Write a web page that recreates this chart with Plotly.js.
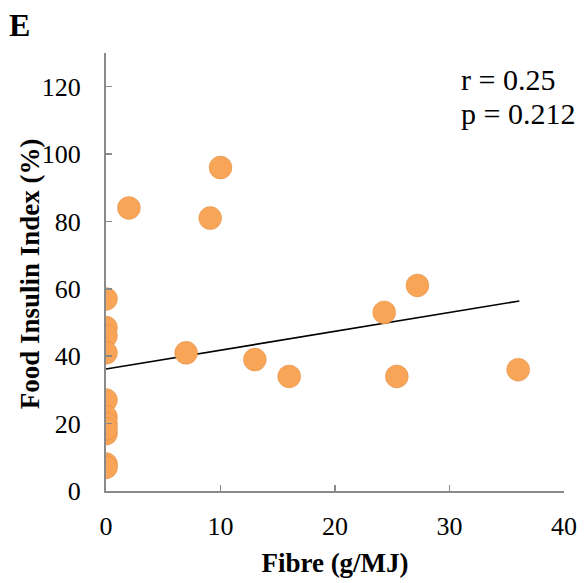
<!DOCTYPE html>
<html>
<head>
<meta charset="utf-8">
<script src="https://cdn.plot.ly/plotly-3.0.1.min.js"></script>
<style>html,body{margin:0;padding:0;background:#fff;}#chart{width:587px;height:583px;}</style>
</head>
<body>
<div id="chart"></div>
<script>
// Fibre (g/MJ) vs Food Insulin Index (%)
var fibre = [0, 0, 0, 0, 0, 0, 0, 0, 0, 0, 0, 2, 9.1, 10, 7, 13, 16, 24.3, 27.2, 25.4, 36];
var insulin = [57, 48.5, 46, 41, 27, 22, 20, 17, 8, 7, 18.5, 84, 81, 96, 41, 39, 34, 53, 61, 34, 36];
var trendX = [0, 36.1];
var trendY = [36.2, 56.4];
var xTicks = [0, 10, 20, 30, 40];
var yTicks = [0, 20, 40, 60, 80, 100, 120];

var axisColor = '#8a8a8a';
var serif = 'Liberation Serif';
var tickFont = {family: serif, size: 26, color: '#000'};

var data = [
  {
    x: trendX, y: trendY, mode: 'lines', type: 'scatter',
    line: {color: '#000', width: 1.6}, hoverinfo: 'skip', showlegend: false
  },
  {
    x: fibre, y: insulin, mode: 'markers', type: 'scatter',
    marker: {size: 23, color: '#F9A557', line: {width: 0.6, color: 'rgba(200,120,50,0.5)'}},
    showlegend: false
  }
];

var layout = {
  width: 587, height: 583,
  margin: {l: 106, r: 23, t: 53, b: 92},
  paper_bgcolor: '#fff', plot_bgcolor: '#fff',
  font: tickFont,
  xaxis: {
    range: [0, 40], tickvals: xTicks, ticktext: xTicks.map(String),
    showgrid: false, zeroline: false, showline: true, linecolor: axisColor, linewidth: 2,
    ticks: 'inside', ticklen: 6, tickcolor: axisColor, tickwidth: 1.5,
    tickfont: tickFont, ticklabelstandoff: 11,
    title: {text: '<b>Fibre (g/MJ)</b>', font: {family: serif, size: 27, color: '#000'}, standoff: 13}
  },
  yaxis: {
    range: [0, 130], tickvals: yTicks, ticktext: yTicks.map(String),
    showgrid: false, zeroline: false, showline: true, linecolor: axisColor, linewidth: 2,
    ticks: 'inside', ticklen: 6, tickcolor: axisColor, tickwidth: 1.5,
    tickfont: tickFont, ticklabelstandoff: 18
  },
  annotations: [
    {text: '<b>Food Insulin Index (%)</b>', xref: 'paper', yref: 'paper', x: -0.166, y: 0.497,
     xanchor: 'center', yanchor: 'middle', textangle: -90, showarrow: false,
     font: {family: serif, size: 27, color: '#000'}},
    {text: '<b>E</b>', xref: 'paper', yref: 'paper', x: -0.216, y: 1.064, xanchor: 'left', yanchor: 'middle',
     showarrow: false, font: {family: serif, size: 32, color: '#000'}},
    {text: 'r = 0.25', xref: 'paper', yref: 'paper', x: 0.77, y: 0.94, xanchor: 'left', yanchor: 'middle',
     showarrow: false, font: {family: serif, size: 30, color: '#000'}},
    {text: 'p = 0.212', xref: 'paper', yref: 'paper', x: 0.77, y: 0.862, xanchor: 'left', yanchor: 'middle',
     showarrow: false, font: {family: serif, size: 30, color: '#000'}}
  ]
};

Plotly.newPlot('chart', data, layout, {displayModeBar: false, staticPlot: true});
</script>
</body>
</html>
